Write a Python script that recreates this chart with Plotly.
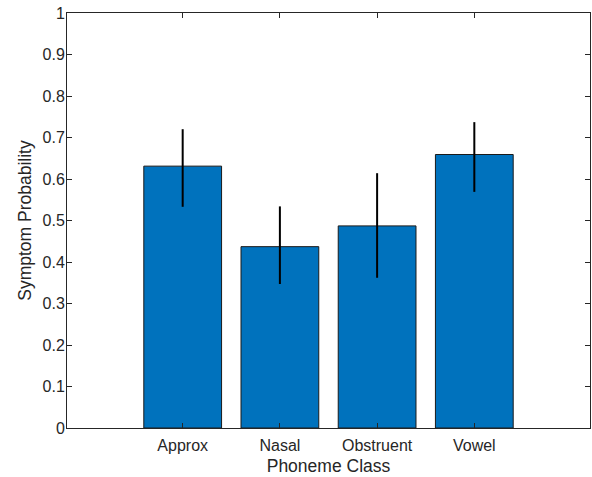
import plotly.graph_objects as go

categories = ["Approx", "Nasal", "Obstruent", "Vowel"]
probability = [0.631, 0.437, 0.487, 0.659]
err_upper = [0.089, 0.097, 0.127, 0.078]
err_lower = [0.098, 0.090, 0.125, 0.090]
y_ticks = [0, 0.1, 0.2, 0.3, 0.4, 0.5, 0.6, 0.7, 0.8, 0.9, 1]
y_tick_labels = ["0", "0.1", "0.2", "0.3", "0.4", "0.5", "0.6", "0.7", "0.8", "0.9", "1"]

font_family = "Liberation Sans, Arial, Helvetica"
axis_common = dict(showline=True, linecolor="#262626", linewidth=1, mirror="ticks",
                   ticks="inside", ticklen=5, tickcolor="#262626", showgrid=False,
                   zeroline=False, tickfont=dict(family=font_family, size=16, color="#262626"),
                   title_font=dict(family=font_family, size=17.5, color="#262626"))

fig = go.Figure()
fig.add_trace(go.Bar(
    x=categories, y=probability, width=0.8,
    marker=dict(color="#0072BD", line=dict(color="#1a1a1a", width=1)),
    error_y=dict(type="data", symmetric=False, array=err_upper, arrayminus=err_lower,
                 color="black", thickness=2, width=0),
))

fig.update_layout(
    width=592, height=477,
    margin=dict(l=67, r=2, t=13, b=49),
    plot_bgcolor="white", paper_bgcolor="white",
    showlegend=False,
    xaxis=dict(range=[-1.19, 4.19], ticklabelstandoff=3,
               title=dict(text="Phoneme Class", standoff=6), **axis_common),
    yaxis=dict(range=[0, 1], tickvals=y_ticks, ticktext=y_tick_labels, ticklabelstandoff=-2,
               title=dict(text="Symptom Probability", standoff=6), **axis_common),
)
fig.write_html("out.html", config={"displayModeBar": False},
               post_script="document.body.style.margin='0px';")
